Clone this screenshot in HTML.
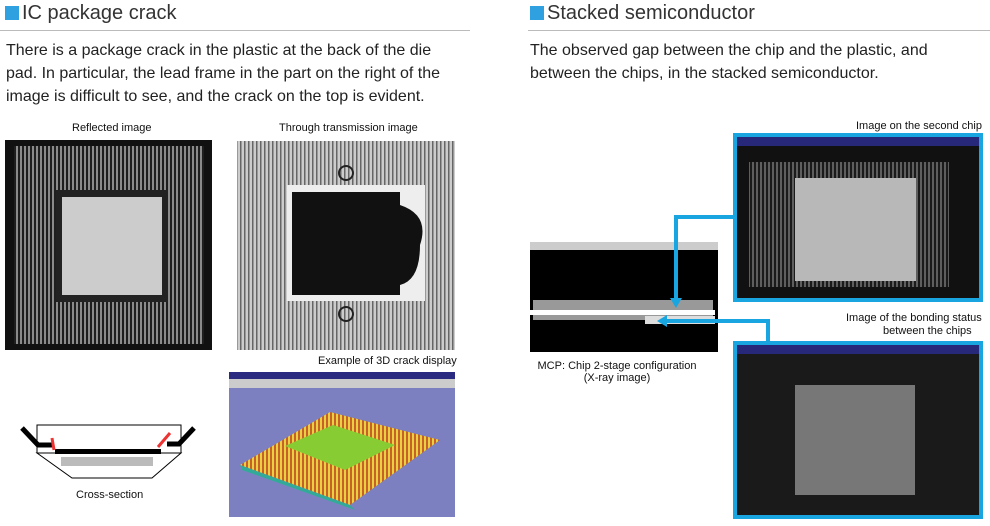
<!DOCTYPE html>
<html><head><meta charset="utf-8"><style>
body{margin:0;width:990px;height:526px;background:#fff;position:relative;overflow:hidden;font-family:"Liberation Sans",sans-serif;color:#222}
.a{position:absolute;white-space:nowrap}
.t{font-size:20px;color:#333}
.t b{display:inline-block;width:14px;height:14px;background:#2fa0e0;margin-right:3px;vertical-align:-1px}
.p{font-size:16px;line-height:23px;color:#222}
.c{font-size:11px;color:#111}
</style></head><body>
<div class="a t" style="left:5px;top:2px"><b></b>IC package crack</div>
<div class="a" style="left:0;top:30px;width:470px;height:1px;background:#bbb"></div>
<div class="a p" style="left:6px;top:39px">There is a package crack in the plastic at the back of the die<br>pad. In particular, the lead frame in the part on the right of the<br>image is difficult to see, and the crack on the top is evident.</div>
<div class="a t" style="left:530px;top:2px"><b></b>Stacked semiconductor</div>
<div class="a" style="left:528px;top:30px;width:462px;height:1px;background:#bbb"></div>
<div class="a p" style="left:530px;top:39px">The observed gap between the chip and the plastic, and<br>between the chips, in the stacked semiconductor.</div>

<div class="a c" style="left:72px;top:122px">Reflected image</div>
<div class="a c" style="left:279px;top:122px">Through transmission image</div>
<div class="a c" style="left:318px;top:355px">Example of 3D crack display</div>
<div class="a c" style="left:76px;top:489px">Cross-section</div>
<div class="a c" style="left:856px;top:120px">Image on the second chip</div>
<div class="a c" style="left:846px;top:312px">Image of the bonding status</div>
<div class="a c" style="left:883px;top:325px">between the chips</div>
<div class="a c" style="left:537px;top:360px;text-align:center;width:160px">MCP: Chip 2-stage configuration<br>(X-ray image)</div>

<svg class="a" style="left:0;top:0" width="990" height="526">
<defs>
<pattern id="ld" width="4" height="4" patternUnits="userSpaceOnUse"><rect width="4" height="4" fill="#222"/><rect width="2" height="4" fill="#aaa"/></pattern>
<pattern id="ld2" width="4" height="4" patternUnits="userSpaceOnUse"><rect width="4" height="4" fill="#ccc"/><rect width="1.5" height="4" fill="#666"/></pattern>
<pattern id="or" width="4" height="4" patternUnits="userSpaceOnUse"><rect width="4" height="4" fill="#c8602a"/><rect width="2" height="4" fill="#e8d040"/></pattern>
</defs>
<!-- reflected -->
<rect x="5" y="140" width="207" height="210" fill="#111"/>
<rect x="14" y="146" width="190" height="198" fill="url(#ld)" opacity=".8"/>
<rect x="56" y="190" width="112" height="112" fill="#222"/>
<rect x="62" y="197" width="100" height="98" fill="#ccc"/>
<!-- transmission -->
<rect x="237" y="141" width="218" height="209" fill="url(#ld2)"/>
<rect x="287" y="185" width="138" height="116" fill="#eee"/>
<path d="M292 192H400V205Q430 215 420 245Q420 280 400 285V295H292Z" fill="#111"/>
<circle cx="346" cy="173" r="7" fill="none" stroke="#222" stroke-width="2"/>
<circle cx="346" cy="314" r="7" fill="none" stroke="#222" stroke-width="2"/>
<!-- 3D -->
<rect x="229" y="372" width="226" height="145" fill="#7d80c0"/>
<rect x="229" y="372" width="226" height="7" fill="#2a2a80"/>
<rect x="229" y="379" width="226" height="9" fill="#ccc"/>
<polygon points="240,465 330,412 440,440 350,505" fill="url(#or)"/>
<polygon points="240,465 350,505 355,510 242,470" fill="#3a9"/>
<polygon points="285,446 333,425 395,445 345,470" fill="#8c3"/>
<!-- cross-section -->
<rect x="37" y="425" width="144" height="28" fill="#fff" stroke="#000"/>
<polygon points="37,453 181,453 152,478 72,478" fill="#fff" stroke="#000"/>
<rect x="61" y="457" width="92" height="9" fill="#bbb"/>
<rect x="55" y="449" width="106" height="5" fill="#000"/>
<path d="M22 428L38 445H52M194 428L179 444H167" stroke="#000" stroke-width="5" fill="none"/>
<path d="M52 438L54 450M158 447L170 433" stroke="#e33" stroke-width="3"/>
<!-- MCP -->
<rect x="530" y="242" width="188" height="110" fill="#000"/>
<rect x="530" y="242" width="188" height="8" fill="#ccc"/>
<rect x="533" y="300" width="180" height="20" fill="#999"/>
<rect x="530" y="310" width="185" height="5" fill="#fff"/>
<rect x="645" y="316" width="70" height="8" fill="#ddd"/>
<!-- top frame -->
<rect x="735" y="135" width="246" height="165" fill="#111" stroke="#19a6e0" stroke-width="4"/>
<rect x="737" y="137" width="242" height="9" fill="#28287a"/>
<rect x="749" y="162" width="200" height="125" fill="url(#ld)" opacity=".5"/>
<rect x="795" y="178" width="121" height="103" fill="#b8b8b8"/>
<!-- bottom frame -->
<rect x="735" y="343" width="246" height="174" fill="#1a1a1a" stroke="#19a6e0" stroke-width="4"/>
<rect x="737" y="345" width="242" height="9" fill="#28287a"/>
<rect x="795" y="385" width="120" height="110" fill="#777"/>
<!-- connectors -->
<path d="M733 217H676V300" stroke="#19a6e0" stroke-width="4" fill="none"/>
<polygon points="670,298 682,298 676,308" fill="#19a6e0"/>
<path d="M768 341V321H665" stroke="#19a6e0" stroke-width="4" fill="none"/>
<polygon points="667,315 667,327 657,321" fill="#19a6e0"/>
</svg>
</body></html>
